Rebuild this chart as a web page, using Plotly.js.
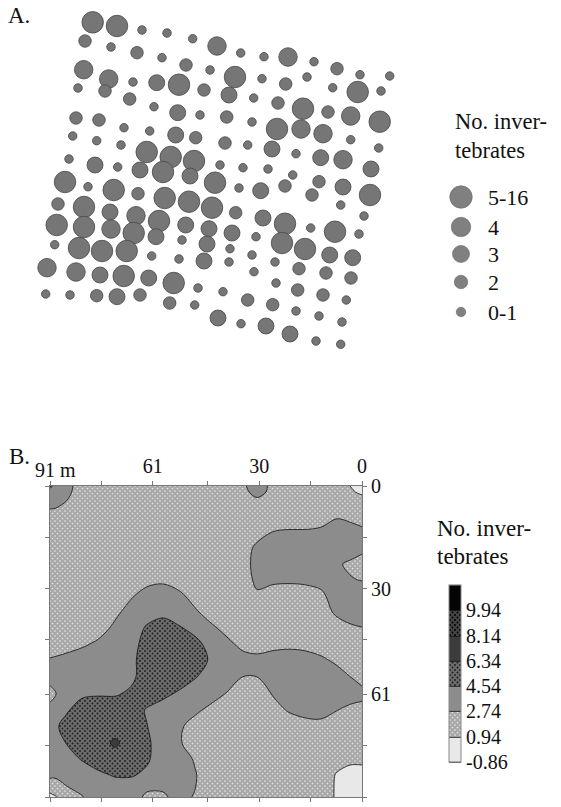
<!DOCTYPE html>
<html><head><meta charset="utf-8"><script src="https://cdn.plot.ly/plotly-3.0.1.min.js"></script>
<style>body{margin:0;background:#fff}</style></head>
<body><div id="p" style="width:561px;height:807px"></div>
<script>
// Panel A: sampling-point map positions and abundance class
var bubbleX=[92.7,117,142,167,192.7,217,240.7,264,288,314,337,360,389.7,
85,111,137,162,186,210,235,262,285.7,307,332.7,357.7,381,
83.7,108.7,133,156.7,179,204,229,253.7,278,303,328,350.7,379.7,
78,105,129.7,154,177.7,200,226.7,252,277,301,323,350.7,378.7,
76,99,124,149.7,175.7,195.7,225,247.7,272,296,320.7,343,371,
72.7,96.7,121,146.7,170.7,194,
69,95,117.7,140,163,190,215,220,243,268,292.7,319,343,370,
239,260.7,285,312,340.7,364,
65,88,113.7,138,164.7,189,212,235.7,263,285,310.7,335,359,
58,84,110,136,159,185.7,209,232,256,282,305,329.7,352.7,
56.7,84,111,133.7,156,182,207,230,252,275,299,326,351,
54.7,79,102,126.7,151.7,179,204,229,254,276,297.7,323,346.3,
47,76,100,123.7,148.7,173.7,198,223,247.7,272.7,296,319,342,
45.7,70,96.7,117,140,169.7,194.7,218,241,266,290,316,340.7];
var bubbleY=[22.3,26,30,33,38.7,46,53,56.7,57,61.7,68.7,74.7,76,
41,47,52.7,57.7,65,70,77,78.7,84,77,87.7,92,91,
69.7,79,82,82.7,84.7,90,95,98,103,108.7,112,116,121.7,
88,91,99,106.7,112.7,115,117,122,129,129,133.7,139.7,148,
118,120,127.7,131,135,137.7,143,145,149,153.7,157.7,159.7,169,
136,140.7,145,152,157,161,
159,165,167,170,172,176,182.7,165,167.7,169,175,181.7,187,195,
188,190.7,186,195,205,216,
182,186.7,190,193.7,198,201.7,207.7,212.7,218,223.7,228,231.7,234,
204,207,212,215.7,221,225,228.7,233,236.7,243,249,255,257.7,
225,227,229,233,236.7,240,244,248.7,255,262,268.7,273,278,
244.7,248,251,251,256,259,261,262,271.7,283,290,295,300,
267.7,272,275,276,278,283,288,291.7,300,304.7,311,316,322,
294,295,295.7,296.7,295,303,305,318,323.7,326,334,341,344.3];
var bubbleClass=[5,5,1,1,1,4,1,1,4,1,2,1,1,
2,1,2,1,2,1,5,1,2,1,1,5,1,
4,4,1,3,5,2,3,1,2,5,2,4,5,
1,2,2,1,3,1,2,1,5,4,4,1,1,
2,2,1,1,3,2,2,1,3,1,3,4,3,
1,1,1,5,5,5,
1,3,1,3,5,3,5,1,1,1,1,2,3,5,
1,3,2,2,1,1,
5,1,5,2,5,5,5,2,3,5,1,5,1,
2,5,3,4,5,3,3,3,1,5,5,3,3,
5,5,4,5,3,1,3,1,1,1,2,2,2,
1,5,5,5,1,1,3,1,1,1,2,2,1,
4,4,3,5,3,5,1,1,2,2,1,1,1,
1,1,2,3,2,2,1,3,1,3,3,1,1];
var legendClass=[5,4,3,2,1];
var legendLabels=['5-16','4','3','2','0-1'];

// Panel B: interpolated invertebrate counts on the survey grid (metres), in hundredths
var gridEastM=[91,89.25,86.33,81.67,77,72.04,67.38,62.71,58.04,53.38,48.71,44.04,39.38,34.71,30.63,25.96,21.29,16.63,11.96,7.29,3.5,0];
var gridSouthM=[0,1.76,4.1,8.78,13.46,18.14,22.82,27.5,32.19,36.87,41.55,46.23,50.91,55.59,60.86,65.54,70.23,75.2,79.88,84.56,88.95,91];
var countHundredths=[
[466,437,312,224,184,184,184,184,184,184,184,184,184,257,327,246,184,184,184,167,94,45],
[437,418,305,218,184,184,184,184,184,184,184,184,184,250,305,250,184,184,184,174,107,78],
[324,317,280,206,184,184,184,184,184,184,184,184,184,219,260,210,184,184,184,184,144,122],
[235,231,212,184,184,184,184,184,184,184,184,184,184,184,184,196,198,199,221,259,242,217],
[184,184,184,184,184,184,184,184,184,184,184,184,184,184,231,276,288,288,297,345,325,302],
[184,184,184,184,184,184,184,184,184,184,184,184,184,225,297,355,364,364,364,364,335,306],
[184,184,184,184,184,184,184,184,184,184,184,184,184,232,310,364,364,364,363,289,255,224],
[184,184,184,184,184,184,194,240,252,224,184,184,184,221,298,297,294,301,312,302,283,269],
[184,184,184,184,184,192,262,320,341,300,233,184,184,203,257,217,205,211,248,334,364,356],
[184,184,184,184,184,248,318,401,422,390,290,226,184,184,184,184,184,184,222,296,337,355],
[184,184,184,184,223,298,389,469,508,466,419,296,238,184,184,184,184,184,184,224,251,269],
[199,208,225,254,295,354,412,498,544,543,487,413,302,242,220,237,245,236,211,184,184,184],
[285,294,310,339,364,364,424,513,544,544,518,437,364,315,307,326,334,325,296,249,206,184],
[336,344,364,364,364,364,427,510,544,521,467,397,340,277,278,336,364,364,364,321,272,226],
[220,270,336,434,442,442,474,523,481,436,386,320,266,205,202,282,357,364,364,355,331,311],
[324,396,437,508,532,528,516,442,403,357,297,245,195,184,184,232,286,317,323,277,243,230],
[406,439,492,544,544,574,542,457,372,294,230,184,184,184,184,184,208,229,235,200,184,184],
[379,408,455,531,576,656,578,476,387,288,215,184,184,184,184,184,184,184,184,184,184,184],
[364,364,406,462,512,578,555,471,385,340,261,184,184,184,184,184,184,184,184,144,128,128],
[319,319,324,391,429,465,466,429,364,364,284,195,184,184,184,184,184,184,168,83,38,38],
[111,122,253,299,357,386,382,285,285,347,274,185,184,184,184,184,184,184,167,77,4,4],
[73,90,144,266,346,364,341,245,245,335,259,184,184,184,184,184,184,184,167,77,4,4]];
var contourLevels=[-0.86,0.94,2.74,4.54,6.34,8.14,9.94];
var levelLabels=['-0.86','0.94','2.74','4.54','6.34','8.14','9.94'];
var axisMetres=[91,76,61,45,30,15,0];
var axisLabelsX=['','','61','','30','','0'];
var axisLabelsY=['91 m','','61','','30','','0'];

var serif='"Liberation Serif"';
var sizeByClass={1:8.5,2:12.5,3:16,4:18.5,5:21.5};
var cols=['#e8e8e8','#aaaaaa','#8c8c8c','#6e6e6e','#3c3c3c','#555555','#050505'];
var cs=[];cols.forEach(function(c,i){cs.push([i/7,c]);cs.push([(i+1)/7,c]);});
var z=countHundredths.map(function(r){return r.map(function(v){return v/100;});});
var legendX=[461,461,461,461,461],legendY=[197,227,254,282,312];

var traces=[
{type:'scatter',mode:'markers',x:bubbleX,y:bubbleY,hoverinfo:'skip',marker:{opacity:1,color:'#767676',size:bubbleClass.map(function(c){return sizeByClass[c];}),line:{color:'#484848',width:0.8}}},
{type:'scatter',mode:'markers',x:legendX,y:legendY,hoverinfo:'skip',marker:{opacity:1,color:'#808080',size:legendClass.map(function(c){return sizeByClass[c]+1;}),line:{color:'#666',width:0.6}}},
{type:'contour',x:gridEastM,y:gridSouthM,z:z,xaxis:'x2',yaxis:'y2',zmin:-0.86,zmax:11.74,autocontour:false,
 contours:{start:-0.86,end:11.74,size:1.8,coloring:'fill'},line:{color:'#111',width:0.8,smoothing:1},colorscale:cs,hoverinfo:'skip',
 colorbar:{x:449/561,xanchor:'left',thickness:12,thicknessmode:'pixels',len:177,lenmode:'pixels',y:(807-762)/807,yanchor:'bottom',ypad:0,xpad:0,outlinecolor:'#888',outlinewidth:1,tickmode:'array',tickvals:contourLevels,ticktext:levelLabels,ticks:'',tickfont:{family:serif,size:20,color:'#111'}}}
];
function note(t,x,y,s){return {text:t,x:x-2,y:y,xref:'x',yref:'y',xanchor:'left',yanchor:'middle',showarrow:false,font:{family:serif,size:s,color:'#111'}};}
var anns=[note('A.',8,15,23),note('B.',9,456,23),note('91 m',35,470,20),
 note('No. inver-',455,121,22.5),note('tebrates',455,150,22.5),
 note('No. inver-',437,528,23),note('tebrates',437,556,23)];
legendLabels.forEach(function(t,i){anns.push(note(t,488,legendY[i],22));});

function axisB(side,vals,text,dom,anch){return {domain:dom,range:[91,0],side:side,anchor:anch,tickmode:'array',tickvals:vals,ticktext:text,ticks:'outside',ticklen:4,tickcolor:'#777',linecolor:'#777',linewidth:1,showline:true,mirror:'ticks',showgrid:false,zeroline:false,fixedrange:true,tickfont:{family:serif,size:20,color:'#111'}};}
var layout={width:561,height:807,margin:{l:0,r:0,t:0,b:0},showlegend:false,paper_bgcolor:'#fff',plot_bgcolor:'rgba(0,0,0,0)',annotations:anns,
 xaxis:{domain:[0,1],range:[0,561],visible:false,fixedrange:true,anchor:'y'},
 yaxis:{domain:[0,1],range:[807,0],visible:false,fixedrange:true,anchor:'x'},
 xaxis2:axisB('top',axisMetres,axisLabelsX,[50/561,362/561],'y2'),
 yaxis2:axisB('right',axisMetres.slice().reverse(),axisLabelsY.slice().reverse(),[10/807,321/807],'x2')};

Plotly.newPlot('p',traces,layout,{displayModeBar:false}).then(function(gd){
 var svg=gd.querySelector('svg.main-svg'),ns='http://www.w3.org/2000/svg',defs=svg.querySelector('defs');
 function pat(id,bg,fg,r){var p=document.createElementNS(ns,'pattern');p.setAttribute('id',id);p.setAttribute('patternUnits','userSpaceOnUse');p.setAttribute('width',5);p.setAttribute('height',5);
  var h='<rect width="5" height="5" fill="'+bg+'"/>';[[0,0],[5,0],[0,5],[5,5],[2.5,2.5]].forEach(function(c){h+='<circle cx="'+c[0]+'" cy="'+c[1]+'" r="'+r+'" fill="'+fg+'"/>';});p.innerHTML=h;defs.appendChild(p);}
 pat('pl','#a8a8a8','#e4e4e4',0.85);pat('pd','#6c6c6c','#1c1c1c',0.95);pat('pk','#444','#000',1);
 var map={0.94:'pl',4.54:'pd',8.14:'pk'};
 gd.querySelectorAll('.contourfill path').forEach(function(e){var l=e.__data__.level;Object.keys(map).forEach(function(m){if(Math.abs(l-m)<0.01)e.style.fill='url(#'+map[m]+')';});});
 gd.querySelectorAll('.cbfill').forEach(function(e){var d=e.__data__,idx=Math.floor((d+0.86)/1.8+0.001),id=[null,'pl',null,'pd',null,'pk',null][idx];if(id)e.style.fill='url(#'+id+')';});
});
</script></body></html>
